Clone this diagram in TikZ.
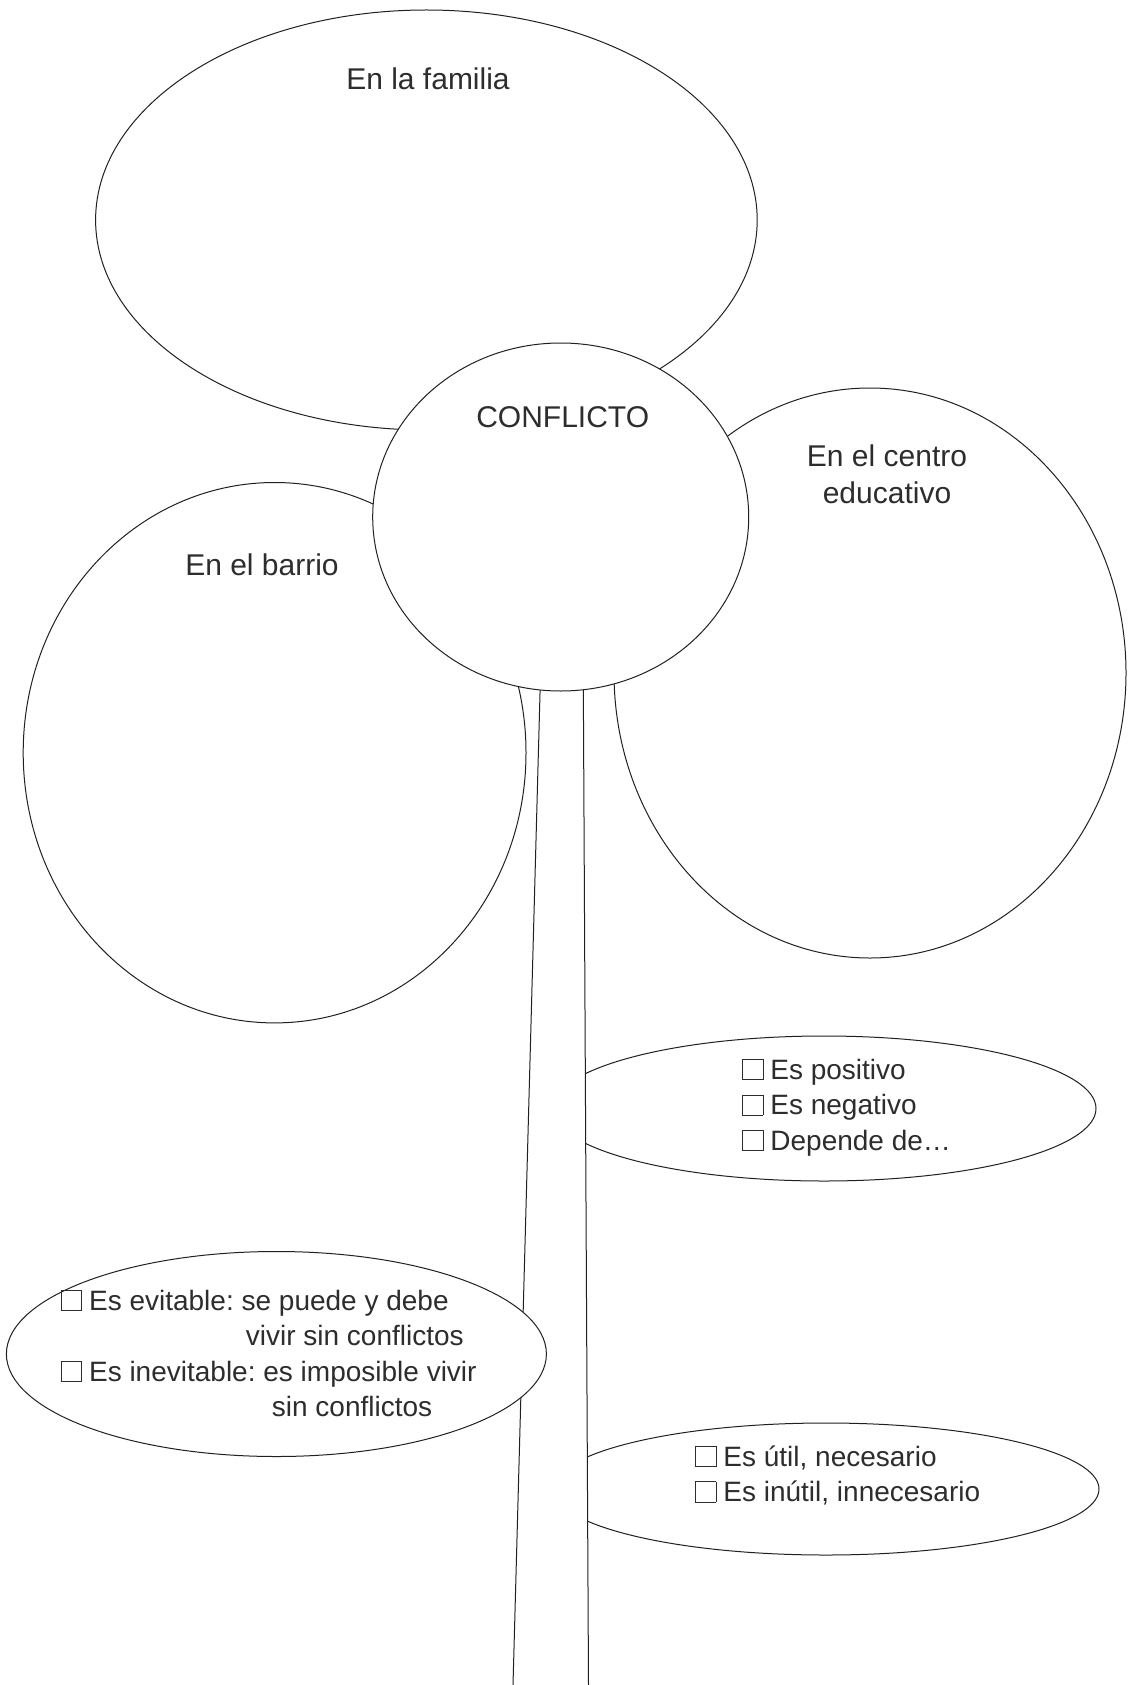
\documentclass[tikz,border=0pt]{standalone}
\usepackage{fontspec}
\setmainfont{Liberation Sans}
\usetikzlibrary{shapes.geometric}
\definecolor{trazo}{RGB}{35,31,32}
\definecolor{letra}{RGB}{45,45,45}
\frenchspacing
\newcommand{\casilla}{{\setlength{\fboxsep}{0pt}\setlength{\fboxrule}{0.8pt}\fbox{\rule{0pt}{0.7em}\hspace{0.7em}}}\hspace{0.25em}}

\begin{document}
\begin{tikzpicture}[x=1pt, y=-1pt,
  globo/.style={ellipse, draw=trazo, fill=white, line width=1pt, inner sep=0pt},
  rotulo/.style={text=letra, inner sep=0pt, font=\fontsize{30}{37.6}\selectfont},
  lista/.style={text=letra, inner sep=0pt, align=left, anchor=north west, font=\fontsize{28}{35.5}\selectfont}]
\useasboundingbox (0,0) rectangle (1129,1685);
% Petals
\node[globo, minimum width=661.6pt, minimum height=420pt] (familia) at (426.4,220) {};
\node[globo, minimum width=502.8pt, minimum height=540.4pt] (barrio) at (274.6,752.7) {};
\node[globo, minimum width=512pt, minimum height=570pt] (centro) at (870,673) {};
% Leaves on the right (behind the stem)
\node[globo, minimum width=544pt, minimum height=145pt] (positivo) at (824,1108.5) {};
\node[globo, minimum width=546pt, minimum height=132pt] (util) at (826,1489) {};
% Stem
\coordinate (tallo-si) at (540.2,686);
\coordinate (tallo-ii) at (513,1685);
\coordinate (tallo-id) at (588.5,1685);
\coordinate (tallo-sd) at (583.3,684);
\fill[white] (tallo-si) -- (tallo-ii) -- (tallo-id) -- (tallo-sd) -- cycle;
\draw[trazo, line width=1pt] (tallo-si) -- (tallo-ii) (tallo-sd) -- (tallo-id);
% Leaf on the left (in front of the stem)
\node[globo, minimum width=540pt, minimum height=205pt] (evitable) at (276.4,1354) {};
% Centre of the flower
\node[globo, minimum width=376pt, minimum height=348pt] (conflicto) at (560.7,517) {};
% Labels
\node[rotulo, anchor=base] (t-familia) at (428,89.3) {En la familia};
\node[rotulo, anchor=base] (t-conflicto) at (562.7,427.3) {CONFLICTO};
\node[rotulo, anchor=base] (t-barrio) at (262,575.4) {En el barrio};
\node[rotulo, anchor=north, align=center] (t-centro) at (887,444.3) {En el centro\\educativo};
% Checklists
\node[lista] (l-positivo) at (742,1058.8) {\casilla Es positivo\\\casilla Es negativo\\\casilla Depende de…};
\node[lista] (l-util) at (695,1445.5) {\casilla Es útil, necesario\\\casilla Es inútil, innecesario};
\node[lista] (l-evitable) at (60.7,1289.5) {\casilla Es evitable: se puede y debe\\\hspace*{185pt}vivir sin conflictos\\\casilla Es inevitable: es imposible vivir\\\hspace*{211pt}sin conflictos};
\end{tikzpicture}
\end{document}
